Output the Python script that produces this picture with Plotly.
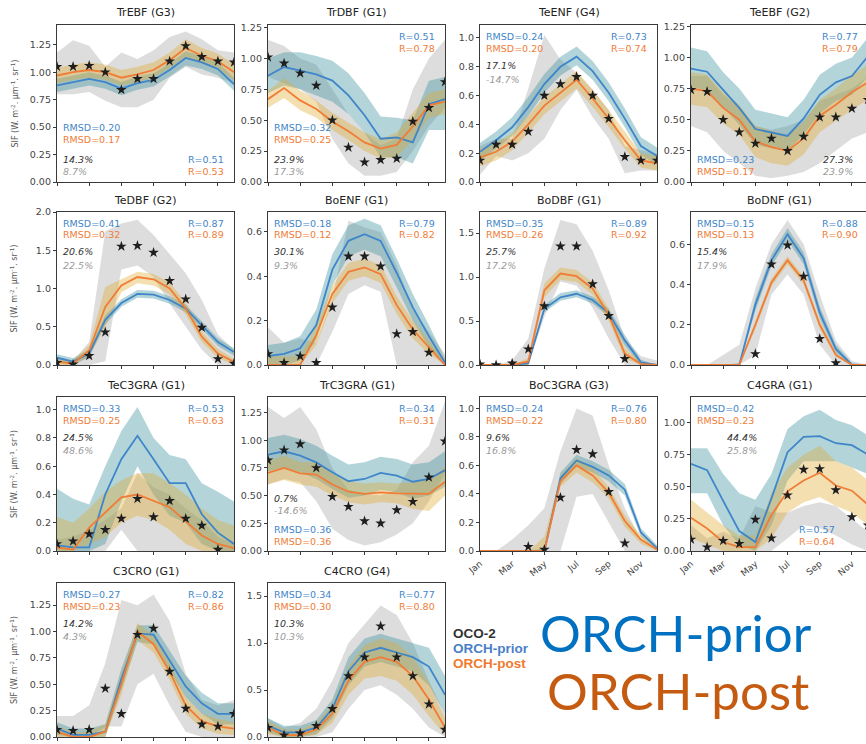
import plotly.graph_objects as go

# ---------------------------------------------------------------- data
months = list(range(12))
month_tick_vals = [0, 2, 4, 6, 8, 10]
month_tick_text = ["Jan", "Mar", "May", "Jul", "Sep", "Nov"]

titles = ["TrEBF (G3)", "TrDBF (G1)", "TeENF (G4)", "TeEBF (G2)",
          "TeDBF (G2)", "BoENF (G1)", "BoDBF (G1)", "BoDNF (G1)",
          "TeC3GRA (G1)", "TrC3GRA (G1)", "BoC3GRA (G3)", "C4GRA (G1)",
          "C3CRO (G1)", "C4CRO (G4)"]
rmsd_prior = ["0.20", "0.32", "0.24", "0.23", "0.41", "0.18", "0.35", "0.15",
              "0.33", "0.36", "0.24", "0.42", "0.27", "0.34"]
rmsd_post = ["0.17", "0.25", "0.20", "0.17", "0.32", "0.12", "0.26", "0.13",
             "0.25", "0.36", "0.22", "0.23", "0.23", "0.30"]
r_prior = ["0.51", "0.51", "0.73", "0.77", "0.87", "0.79", "0.89", "0.88",
           "0.53", "0.34", "0.76", "0.57", "0.82", "0.77"]
r_post = ["0.53", "0.78", "0.74", "0.79", "0.89", "0.82", "0.92", "0.90",
          "0.63", "0.31", "0.80", "0.64", "0.86", "0.80"]
pct_a = ["14.3%", "23.9%", "17.1%", "27.3%", "20.6%", "30.1%", "25.7%", "15.4%",
         "24.5%", "0.7%", "9.6%", "44.4%", "14.2%", "10.3%"]
pct_b = ["8.7%", "17.3%", "-14.7%", "23.9%", "22.5%", "9.3%", "17.2%", "17.9%",
         "48.6%", "-14.6%", "16.8%", "25.8%", "4.3%", "10.3%"]

# TrEBF
trebf_obs = [1.05, 1.05, 1.06, 1.00, 0.84, 0.94, 0.94, 1.10, 1.24, 1.14, 1.10, 1.09]
trebf_obs_lo = [0.80, 0.80, 0.82, 0.74, 0.68, 0.68, 0.75, 0.95, 1.05, 0.98, 0.95, 0.90]
trebf_obs_hi = [1.18, 1.29, 1.24, 1.05, 1.18, 1.12, 1.20, 1.32, 1.37, 1.30, 1.20, 1.18]
trebf_prior = [0.88, 0.91, 0.94, 0.91, 0.85, 0.90, 0.93, 1.02, 1.13, 1.09, 1.03, 0.89]
trebf_prior_lo = [0.82, 0.85, 0.88, 0.85, 0.79, 0.84, 0.87, 0.96, 1.06, 1.03, 0.97, 0.83]
trebf_prior_hi = [0.94, 0.97, 1.00, 0.97, 0.91, 0.96, 0.99, 1.08, 1.19, 1.15, 1.09, 0.95]
trebf_post = [0.97, 1.00, 1.02, 1.00, 0.95, 0.98, 1.02, 1.11, 1.22, 1.15, 1.10, 1.00]
trebf_post_lo = [0.90, 0.93, 0.95, 0.93, 0.88, 0.91, 0.95, 1.04, 1.14, 1.08, 1.03, 0.93]
trebf_post_hi = [1.04, 1.07, 1.09, 1.07, 1.02, 1.05, 1.09, 1.18, 1.30, 1.22, 1.17, 1.07]

# TrDBF
trdbf_obs = [1.01, 0.96, 0.88, 0.78, 0.50, 0.28, 0.16, 0.18, 0.19, 0.49, 0.60, 0.81]
trdbf_obs_lo = [0.85, 0.80, 0.75, 0.65, 0.35, 0.15, 0.05, 0.05, 0.08, 0.25, 0.45, 0.60]
trdbf_obs_hi = [1.15, 1.10, 1.00, 0.95, 0.75, 0.55, 0.40, 0.30, 0.35, 0.75, 1.00, 1.15]
trdbf_prior = [0.86, 0.93, 0.90, 0.87, 0.82, 0.70, 0.54, 0.35, 0.36, 0.32, 0.63, 0.67]
trdbf_prior_lo = [0.72, 0.78, 0.75, 0.70, 0.65, 0.55, 0.40, 0.20, 0.20, 0.15, 0.42, 0.42]
trdbf_prior_hi = [1.00, 1.05, 1.05, 1.02, 0.98, 0.88, 0.72, 0.53, 0.52, 0.50, 0.82, 0.85]
trdbf_post = [0.67, 0.76, 0.66, 0.59, 0.49, 0.41, 0.32, 0.27, 0.30, 0.45, 0.62, 0.65]
trdbf_post_lo = [0.60, 0.68, 0.58, 0.52, 0.42, 0.34, 0.25, 0.19, 0.20, 0.34, 0.52, 0.55]
trdbf_post_hi = [0.74, 0.84, 0.74, 0.66, 0.56, 0.48, 0.40, 0.35, 0.40, 0.56, 0.72, 0.75]

# TeENF
teenf_obs = [0.15, 0.26, 0.26, 0.35, 0.60, 0.68, 0.73, 0.60, 0.44, 0.175, 0.15, 0.15]
teenf_obs_lo = [0.05, 0.18, 0.15, 0.20, 0.30, 0.50, 0.64, 0.45, 0.30, 0.06, 0.08, 0.08]
teenf_obs_hi = [0.25, 0.30, 0.30, 0.65, 1.02, 0.85, 0.76, 0.64, 0.50, 0.25, 0.22, 0.20]
teenf_prior = [0.21, 0.29, 0.38, 0.52, 0.68, 0.80, 0.87, 0.77, 0.62, 0.44, 0.25, 0.18]
teenf_prior_lo = [0.15, 0.23, 0.32, 0.46, 0.62, 0.74, 0.81, 0.71, 0.56, 0.38, 0.19, 0.12]
teenf_prior_hi = [0.27, 0.35, 0.45, 0.59, 0.75, 0.87, 0.94, 0.84, 0.69, 0.51, 0.31, 0.24]
teenf_post = [0.17, 0.21, 0.28, 0.40, 0.53, 0.62, 0.71, 0.58, 0.44, 0.29, 0.15, 0.13]
teenf_post_lo = [0.11, 0.15, 0.22, 0.34, 0.47, 0.56, 0.65, 0.52, 0.38, 0.23, 0.10, 0.08]
teenf_post_hi = [0.23, 0.27, 0.34, 0.46, 0.59, 0.68, 0.77, 0.64, 0.50, 0.35, 0.20, 0.18]

# TeEBF
teebf_obs = [0.74, 0.725, 0.50, 0.40, 0.31, 0.35, 0.25, 0.365, 0.52, 0.52, 0.59, 0.66]
teebf_obs_lo = [0.45, 0.40, 0.25, 0.15, 0.05, 0.03, 0.05, 0.08, 0.15, 0.25, 0.35, 0.40]
teebf_obs_hi = [0.85, 0.85, 0.70, 0.60, 0.45, 0.42, 0.45, 0.50, 0.65, 0.70, 0.75, 0.85]
teebf_prior = [0.91, 0.885, 0.74, 0.595, 0.425, 0.40, 0.37, 0.51, 0.70, 0.80, 0.85, 1.01]
teebf_prior_lo = [0.76, 0.74, 0.60, 0.46, 0.30, 0.27, 0.25, 0.38, 0.55, 0.65, 0.70, 0.85]
teebf_prior_hi = [1.08, 1.05, 0.88, 0.75, 0.58, 0.55, 0.52, 0.66, 0.86, 0.95, 1.00, 1.16]
teebf_post = [0.75, 0.73, 0.595, 0.50, 0.325, 0.28, 0.25, 0.35, 0.53, 0.62, 0.72, 0.80]
teebf_post_lo = [0.62, 0.60, 0.47, 0.38, 0.20, 0.15, 0.13, 0.22, 0.40, 0.49, 0.58, 0.66]
teebf_post_hi = [0.88, 0.86, 0.72, 0.62, 0.45, 0.41, 0.38, 0.48, 0.66, 0.75, 0.86, 0.94]

# TeDBF
tedbf_obs = [0.03, 0.01, 0.12, 0.43, 1.55, 1.56, 1.47, 1.10, 0.86, 0.49, 0.08, 0.02]
tedbf_obs_lo = [0.0, 0.0, 0.0, 0.05, 1.25, 1.30, 1.15, 0.80, 0.50, 0.20, 0.0, 0.0]
tedbf_obs_hi = [0.10, 0.06, 0.30, 1.75, 1.85, 1.90, 1.70, 1.45, 1.20, 0.85, 0.40, 0.20]
tedbf_prior = [0.095, 0.045, 0.15, 0.59, 0.81, 0.93, 0.92, 0.85, 0.74, 0.52, 0.30, 0.17]
tedbf_prior_lo = [0.05, 0.0, 0.10, 0.53, 0.76, 0.88, 0.87, 0.80, 0.69, 0.47, 0.25, 0.12]
tedbf_prior_hi = [0.14, 0.09, 0.20, 0.65, 0.86, 0.98, 0.97, 0.90, 0.79, 0.57, 0.35, 0.22]
tedbf_post = [0.04, 0.02, 0.19, 0.76, 1.04, 1.15, 1.12, 1.00, 0.74, 0.37, 0.15, 0.04]
tedbf_post_lo = [0.0, 0.0, 0.12, 0.50, 0.95, 1.07, 1.04, 0.92, 0.66, 0.30, 0.09, 0.0]
tedbf_post_hi = [0.08, 0.06, 0.26, 1.02, 1.12, 1.22, 1.19, 1.08, 0.82, 0.44, 0.21, 0.08]

# BoENF
boenf_obs = [0.05, 0.01, 0.04, 0.01, 0.26, 0.49, 0.49, 0.445, 0.14, 0.15, 0.057, None]
boenf_obs_lo = [0, 0, 0, 0, 0.15, 0.32, 0.36, 0.33, 0, 0, 0, 0]
boenf_obs_hi = [0.17, 0.10, 0.12, 0.10, 0.30, 0.65, 0.62, 0.60, 0.45, 0.25, 0.15, 0.05]
boenf_prior = [0.04, 0.05, 0.075, 0.18, 0.43, 0.56, 0.59, 0.56, 0.415, 0.26, 0.13, 0.01]
boenf_prior_lo = [0.0, 0.0, 0.02, 0.11, 0.36, 0.49, 0.52, 0.49, 0.35, 0.20, 0.08, 0.0]
boenf_prior_hi = [0.09, 0.10, 0.13, 0.25, 0.50, 0.63, 0.66, 0.63, 0.48, 0.32, 0.18, 0.03]
boenf_post = [0.0, 0.0, 0.0, 0.135, 0.32, 0.42, 0.44, 0.41, 0.27, 0.16, 0.08, 0.0]
boenf_post_lo = [0, 0, 0, 0.09, 0.28, 0.38, 0.40, 0.37, 0.23, 0.12, 0.05, 0]
boenf_post_hi = [0.04, 0.04, 0.04, 0.18, 0.36, 0.46, 0.48, 0.45, 0.31, 0.20, 0.11, 0.01]

# BoDBF
bodbf_obs = [0.01, 0.0, 0.02, 0.18, 0.67, 1.35, 1.35, 0.92, 0.56, 0.07, None, None]
bodbf_obs_lo = [0, 0, 0, 0, 0.55, 0.95, 0.90, 0.65, 0.30, 0, 0, 0]
bodbf_obs_hi = [0, 0, 0.05, 0.30, 1.10, 1.65, 1.60, 1.30, 0.85, 0.30, 0.10, 0.05]
bodbf_prior = [0, 0, 0, 0.02, 0.64, 0.77, 0.81, 0.74, 0.59, 0.28, 0.03, 0]
bodbf_prior_lo = [0, 0, 0, 0, 0.60, 0.73, 0.77, 0.70, 0.55, 0.22, 0, 0]
bodbf_prior_hi = [0, 0, 0, 0.04, 0.68, 0.82, 0.85, 0.78, 0.64, 0.34, 0.06, 0]
bodbf_post = [0, 0, 0, 0.04, 0.85, 1.04, 1.01, 0.87, 0.57, 0.13, 0.01, 0]
bodbf_post_lo = [0, 0, 0, 0, 0.77, 0.97, 0.94, 0.80, 0.50, 0.07, 0, 0]
bodbf_post_hi = [0, 0, 0, 0.08, 0.93, 1.11, 1.08, 0.94, 0.64, 0.19, 0.03, 0]

# BoDNF
bodnf_obs = [None, None, None, None, 0.055, 0.50, 0.595, 0.44, 0.13, 0.01, None, None]
bodnf_obs_lo = [0, 0, 0, 0, 0.05, 0.35, 0.45, 0.35, 0.10, 0, 0, 0]
bodnf_obs_hi = [0, 0, 0.05, 0.10, 0.38, 0.60, 0.72, 0.60, 0.35, 0.12, 0.02, 0]
bodnf_prior = [0, 0, 0, 0, 0.30, 0.52, 0.65, 0.53, 0.26, 0.08, 0, 0]
bodnf_prior_lo = [0, 0, 0, 0, 0.27, 0.49, 0.62, 0.50, 0.23, 0.06, 0, 0]
bodnf_prior_hi = [0, 0, 0, 0.01, 0.33, 0.55, 0.68, 0.56, 0.29, 0.10, 0.01, 0]
bodnf_post = [0, 0, 0, 0, 0.20, 0.41, 0.52, 0.42, 0.20, 0.05, 0, 0]
bodnf_post_lo = [0, 0, 0, 0, 0.18, 0.39, 0.50, 0.40, 0.18, 0.04, 0, 0]
bodnf_post_hi = [0, 0, 0, 0, 0.22, 0.43, 0.54, 0.44, 0.22, 0.06, 0, 0]

# TeC3GRA
tec3gra_obs = [0.05, 0.07, 0.12, 0.15, 0.23, 0.37, 0.24, 0.355, 0.23, 0.18, 0.01, None]
tec3gra_obs_lo = [0, 0, 0, 0, 0.15, 0, 0, 0, 0, 0, 0, 0]
tec3gra_obs_hi = [0.08, 0.10, 0.15, 0.22, 0.30, 0.55, 0.45, 0.40, 0.30, 0.22, 0.10, 0.05]
tec3gra_prior = [0.04, 0.025, 0.025, 0.40, 0.65, 0.815, 0.65, 0.48, 0.48, 0.26, 0.13, 0.05]
tec3gra_prior_lo = [0, 0, 0, 0.05, 0.35, 0.60, 0.40, 0.25, 0.20, 0.05, 0, 0]
tec3gra_prior_hi = [0.44, 0.37, 0.33, 0.60, 0.85, 1.02, 0.80, 0.68, 0.65, 0.48, 0.42, 0.35]
tec3gra_post = [0.025, 0.01, 0.165, 0.27, 0.38, 0.40, 0.355, 0.31, 0.21, 0.11, 0.05, 0.02]
tec3gra_post_lo = [0, 0, 0.05, 0.10, 0.20, 0.25, 0.22, 0.15, 0.05, 0, 0, 0]
tec3gra_post_hi = [0.24, 0.20, 0.30, 0.42, 0.50, 0.55, 0.55, 0.48, 0.40, 0.30, 0.22, 0.18]

# TrC3GRA
trc3gra_obs = [0.82, 0.91, 0.965, 0.75, 0.49, 0.40, 0.27, 0.25, 0.37, 0.445, 0.665, 0.99]
trc3gra_obs_lo = [0.60, 0.65, 0.62, 0.45, 0.20, 0.10, 0.05, 0.08, 0.15, 0.25, 0.45, 0.70]
trc3gra_obs_hi = [1.30, 1.20, 1.30, 1.10, 0.75, 0.55, 0.52, 0.50, 0.55, 0.80, 0.95, 1.35]
trc3gra_prior = [0.87, 0.90, 0.86, 0.80, 0.71, 0.63, 0.65, 0.705, 0.68, 0.625, 0.65, 0.73]
trc3gra_prior_lo = [0.72, 0.75, 0.71, 0.65, 0.56, 0.48, 0.50, 0.55, 0.53, 0.47, 0.50, 0.58]
trc3gra_prior_hi = [1.02, 1.05, 1.01, 0.95, 0.86, 0.78, 0.80, 0.85, 0.83, 0.78, 0.80, 0.90]
trc3gra_post = [0.705, 0.75, 0.70, 0.69, 0.60, 0.535, 0.515, 0.53, 0.52, 0.515, 0.515, 0.625]
trc3gra_post_lo = [0.60, 0.64, 0.60, 0.58, 0.50, 0.44, 0.42, 0.44, 0.43, 0.38, 0.36, 0.50]
trc3gra_post_hi = [0.81, 0.86, 0.80, 0.80, 0.70, 0.63, 0.61, 0.62, 0.61, 0.62, 0.65, 0.76]

# BoC3GRA
boc3gra_obs = [None, None, None, 0.03, 0.01, 0.375, 0.71, 0.68, 0.415, 0.055, None, None]
boc3gra_obs_lo = [0, 0, 0, 0, 0, 0, 0.38, 0.40, 0.20, 0, 0, 0]
boc3gra_obs_hi = [0, 0, 0.08, 0.18, 0.30, 0.70, 1.00, 0.95, 0.60, 0.30, 0.08, 0]
boc3gra_prior = [0, 0, 0, 0, 0, 0.51, 0.635, 0.59, 0.53, 0.43, 0.13, 0.02]
boc3gra_prior_lo = [0, 0, 0, 0, 0, 0.47, 0.595, 0.55, 0.49, 0.39, 0.10, 0.0]
boc3gra_prior_hi = [0, 0, 0, 0, 0.02, 0.55, 0.675, 0.63, 0.57, 0.47, 0.16, 0.04]
boc3gra_post = [0, 0, 0, 0, 0, 0.49, 0.60, 0.53, 0.41, 0.21, 0.08, 0.01]
boc3gra_post_lo = [0, 0, 0, 0, 0, 0.45, 0.55, 0.48, 0.37, 0.17, 0.05, 0]
boc3gra_post_hi = [0, 0, 0, 0, 0.10, 0.53, 0.65, 0.58, 0.45, 0.25, 0.11, 0.03]

# C4GRA
c4gra_obs = [0.09, 0.03, 0.08, 0.057, 0.245, 0.10, 0.435, 0.635, 0.64, 0.475, 0.265, 0.20]
c4gra_obs_lo = [0, 0, 0, 0, 0, 0, 0.10, 0.20, 0.18, 0.12, 0.05, 0.0]
c4gra_obs_hi = [0.20, 0.10, 0.15, 0.10, 0.35, 0.30, 0.30, 0.35, 0.38, 0.35, 0.25, 0.15]
c4gra_prior = [0.68, 0.63, 0.39, 0.155, 0.07, 0.41, 0.77, 0.89, 0.895, 0.84, 0.825, 0.75]
c4gra_prior_lo = [0.45, 0.45, 0.20, 0.05, 0.0, 0.20, 0.55, 0.70, 0.70, 0.70, 0.65, 0.60]
c4gra_prior_hi = [0.80, 0.80, 0.60, 0.45, 0.40, 0.60, 0.95, 1.05, 1.10, 1.02, 0.98, 0.90]
c4gra_post = [0.26, 0.175, 0.07, 0.03, 0.03, 0.28, 0.465, 0.55, 0.61, 0.51, 0.47, 0.36]
c4gra_post_lo = [0.10, 0.05, 0.0, 0.0, 0.0, 0.10, 0.30, 0.38, 0.42, 0.35, 0.30, 0.20]
c4gra_post_hi = [0.40, 0.30, 0.20, 0.12, 0.12, 0.45, 0.65, 0.75, 0.82, 0.70, 0.65, 0.55]

# C3CRO
c3cro_obs = [0.07, 0.06, 0.07, 0.46, 0.22, 0.97, 1.03, 0.62, 0.27, 0.12, 0.10, 0.22]
c3cro_obs_lo = [0, 0, 0, 0.10, 0.10, 0.50, 0.60, 0.30, 0.05, 0, 0, 0]
c3cro_obs_hi = [0.20, 0.20, 0.30, 0.70, 1.30, 1.25, 1.35, 1.10, 0.60, 0.35, 0.30, 0.35]
c3cro_prior = [0.08, 0.02, 0.02, 0.05, 0.55, 0.98, 0.97, 0.72, 0.48, 0.32, 0.22, 0.22]
c3cro_prior_lo = [0.02, 0, 0, 0, 0.45, 0.90, 0.88, 0.62, 0.38, 0.22, 0.12, 0.12]
c3cro_prior_hi = [0.14, 0.08, 0.08, 0.12, 0.65, 1.06, 1.06, 0.82, 0.58, 0.42, 0.32, 0.32]
c3cro_post = [0.05, 0.0, 0.0, 0.05, 0.50, 1.00, 0.88, 0.62, 0.30, 0.15, 0.10, 0.08]
c3cro_post_lo = [0, 0, 0, 0, 0.40, 0.92, 0.80, 0.54, 0.22, 0.08, 0.03, 0.02]
c3cro_post_hi = [0.10, 0.05, 0.05, 0.12, 0.60, 1.08, 0.96, 0.70, 0.38, 0.22, 0.17, 0.14]

# C4CRO
c4cro_obs = [0.10, 0.02, 0.04, 0.12, 0.30, 0.65, 0.85, 1.18, 0.85, 0.65, 0.35, 0.08]
c4cro_obs_lo = [0, 0, 0, 0, 0.05, 0.30, 0.50, 0.55, 0.45, 0.30, 0.10, 0]
c4cro_obs_hi = [0.20, 0.10, 0.15, 0.30, 0.60, 1.00, 1.20, 1.40, 1.30, 1.00, 0.60, 0.25]
c4cro_prior = [0.12, 0.05, 0.05, 0.10, 0.30, 0.70, 0.90, 0.95, 0.90, 0.85, 0.75, 0.45]
c4cro_prior_lo = [0.05, 0, 0, 0.03, 0.20, 0.55, 0.75, 0.80, 0.75, 0.70, 0.55, 0.25]
c4cro_prior_hi = [0.20, 0.12, 0.12, 0.18, 0.40, 0.85, 1.05, 1.10, 1.05, 1.00, 0.95, 0.65]
c4cro_post = [0.10, 0.02, 0.02, 0.08, 0.25, 0.60, 0.80, 0.85, 0.80, 0.65, 0.40, 0.10]
c4cro_post_lo = [0.03, 0, 0, 0.02, 0.15, 0.45, 0.62, 0.65, 0.60, 0.45, 0.22, 0.02]
c4cro_post_hi = [0.17, 0.08, 0.08, 0.15, 0.35, 0.75, 0.98, 1.05, 1.00, 0.85, 0.58, 0.20]

series = [
    (trebf_obs, trebf_obs_lo, trebf_obs_hi, trebf_prior, trebf_prior_lo, trebf_prior_hi, trebf_post, trebf_post_lo, trebf_post_hi),
    (trdbf_obs, trdbf_obs_lo, trdbf_obs_hi, trdbf_prior, trdbf_prior_lo, trdbf_prior_hi, trdbf_post, trdbf_post_lo, trdbf_post_hi),
    (teenf_obs, teenf_obs_lo, teenf_obs_hi, teenf_prior, teenf_prior_lo, teenf_prior_hi, teenf_post, teenf_post_lo, teenf_post_hi),
    (teebf_obs, teebf_obs_lo, teebf_obs_hi, teebf_prior, teebf_prior_lo, teebf_prior_hi, teebf_post, teebf_post_lo, teebf_post_hi),
    (tedbf_obs, tedbf_obs_lo, tedbf_obs_hi, tedbf_prior, tedbf_prior_lo, tedbf_prior_hi, tedbf_post, tedbf_post_lo, tedbf_post_hi),
    (boenf_obs, boenf_obs_lo, boenf_obs_hi, boenf_prior, boenf_prior_lo, boenf_prior_hi, boenf_post, boenf_post_lo, boenf_post_hi),
    (bodbf_obs, bodbf_obs_lo, bodbf_obs_hi, bodbf_prior, bodbf_prior_lo, bodbf_prior_hi, bodbf_post, bodbf_post_lo, bodbf_post_hi),
    (bodnf_obs, bodnf_obs_lo, bodnf_obs_hi, bodnf_prior, bodnf_prior_lo, bodnf_prior_hi, bodnf_post, bodnf_post_lo, bodnf_post_hi),
    (tec3gra_obs, tec3gra_obs_lo, tec3gra_obs_hi, tec3gra_prior, tec3gra_prior_lo, tec3gra_prior_hi, tec3gra_post, tec3gra_post_lo, tec3gra_post_hi),
    (trc3gra_obs, trc3gra_obs_lo, trc3gra_obs_hi, trc3gra_prior, trc3gra_prior_lo, trc3gra_prior_hi, trc3gra_post, trc3gra_post_lo, trc3gra_post_hi),
    (boc3gra_obs, boc3gra_obs_lo, boc3gra_obs_hi, boc3gra_prior, boc3gra_prior_lo, boc3gra_prior_hi, boc3gra_post, boc3gra_post_lo, boc3gra_post_hi),
    (c4gra_obs, c4gra_obs_lo, c4gra_obs_hi, c4gra_prior, c4gra_prior_lo, c4gra_prior_hi, c4gra_post, c4gra_post_lo, c4gra_post_hi),
    (c3cro_obs, c3cro_obs_lo, c3cro_obs_hi, c3cro_prior, c3cro_prior_lo, c3cro_prior_hi, c3cro_post, c3cro_post_lo, c3cro_post_hi),
    (c4cro_obs, c4cro_obs_lo, c4cro_obs_hi, c4cro_prior, c4cro_prior_lo, c4cro_prior_hi, c4cro_post, c4cro_post_lo, c4cro_post_hi),
]

# y-axis upper limit and tick step of each panel
y_top = [1.43, 1.27, 1.09, 1.26, 2.0, 0.69, 1.74, 0.76, 1.09, 1.39, 1.08, 1.2, 1.46, 1.64]
y_step = [0.25, 0.25, 0.2, 0.25, 0.5, 0.2, 0.5, 0.2, 0.2, 0.25, 0.2, 0.25, 0.25, 0.5]

# ---------------------------------------------------------------- layout
W, H = 866, 744
col_left = [57, 268, 480, 691]
panel_w = 177
row_box = [(25, 182), (212, 365), (397, 551), (583, 737)]

BLUE = "#3f85c9"
ORANGE = "#f07c36"
BLUE_BAND = "rgba(64,150,162,0.40)"
ORANGE_BAND = "rgba(225,165,40,0.36)"
GREY_BAND = "rgba(175,175,175,0.42)"
FONT = "DejaVu Sans"

fig = go.Figure()
annotations = []


def px(x):
    return x / W


def py(y):
    return 1 - y / H


for i, data in enumerate(series):
    obs, obs_lo, obs_hi, pr, pr_lo, pr_hi, po, po_lo, po_hi = data
    row, col = divmod(i, 4)
    n = i + 1
    xa = "x" if n == 1 else f"x{n}"
    ya = "y" if n == 1 else f"y{n}"
    left = col_left[col]
    right_full = left + panel_w
    right = min(right_full, W)
    top, bot = row_box[row]
    x_max = 11 * (right - left) / panel_w

    def band(lo, hi, color):
        fig.add_trace(go.Scatter(x=months, y=lo, mode="lines", line=dict(width=0),
                                 xaxis=xa, yaxis=ya, hoverinfo="skip", showlegend=False))
        fig.add_trace(go.Scatter(x=months, y=hi, mode="lines", line=dict(width=0),
                                 fill="tonexty", fillcolor=color,
                                 xaxis=xa, yaxis=ya, hoverinfo="skip", showlegend=False))

    band(obs_lo, obs_hi, GREY_BAND)
    band(pr_lo, pr_hi, BLUE_BAND)
    band(po_lo, po_hi, ORANGE_BAND)
    fig.add_trace(go.Scatter(x=months, y=pr, mode="lines", line=dict(color=BLUE, width=1.8),
                             xaxis=xa, yaxis=ya, showlegend=False, name="ORCH-prior"))
    fig.add_trace(go.Scatter(x=months, y=po, mode="lines", line=dict(color=ORANGE, width=1.8),
                             xaxis=xa, yaxis=ya, showlegend=False, name="ORCH-post"))
    fig.add_trace(go.Scatter(x=months, y=obs, mode="markers",
                             marker=dict(symbol="star", size=8, color="#1e1e1e"),
                             xaxis=xa, yaxis=ya, showlegend=False, name="OCO-2"))

    # month names only under the panels that have nothing below them and stay on screen
    show_month_labels = (row == 2 and col >= 2)
    clipped = right_full > W
    n_ticks = int(y_top[i] / y_step[i] + 1e-6) + 1
    tick_vals = [round(k * y_step[i], 3) for k in range(n_ticks)]
    fmt = ".2f" if y_step[i] == 0.25 else ".1f"

    fig.update_layout(**{
        ("xaxis" if n == 1 else f"xaxis{n}"): dict(
            domain=[px(left), px(right)], anchor=ya, range=[0, x_max], automargin=False,
            showgrid=False, zeroline=False, showline=True, linecolor="#3a3a3a", linewidth=1.3,
            mirror=True, ticks="outside", ticklen=3, tickcolor="#3a3a3a",
            tickvals=month_tick_vals,
            ticktext=month_tick_text if show_month_labels else [""] * 6,
            tickangle=-40, tickfont=dict(family=FONT, size=9, color="#444")),
        ("yaxis" if n == 1 else f"yaxis{n}"): dict(
            domain=[py(bot), py(top)], anchor=xa, range=[0, y_top[i]], automargin=False,
            showgrid=False, zeroline=False, showline=True, linecolor="#3a3a3a", linewidth=1.3,
            mirror=not clipped, ticks="outside", ticklen=3, tickcolor="#3a3a3a",
            tickvals=tick_vals, tickformat=fmt,
            tickfont=dict(family=FONT, size=9.5, color="#444")),
    })

    # panel title
    annotations.append(dict(x=px(left + panel_w / 2), y=py(top - 12), xref="paper", yref="paper",
                            text=titles[i], showarrow=False, xanchor="center", yanchor="middle",
                            font=dict(family=FONT, size=11, color="#222")))

    ph = bot - top

    def txt(fx, fy, s, color, anchor="left", italic=False):
        # fx: fraction of the full panel width, fy: fraction of the panel height from the bottom
        text = f"<i>{s}</i>" if italic else s
        annotations.append(dict(x=px(left + fx * panel_w), y=py(bot - fy * ph),
                                xref="paper", yref="paper", text=text, showarrow=False,
                                xanchor=anchor, yanchor="middle",
                                font=dict(family=FONT, size=9.5, color=color)))

    rm_b = f"RMSD={rmsd_prior[i]}"
    rm_o = f"RMSD={rmsd_post[i]}"
    r_b = f"R={r_prior[i]}"
    r_o = f"R={r_post[i]}"
    xl, xr = 0.02, 0.955
    if i == 0:
        txt(xl, 0.345, rm_b, BLUE); txt(xl, 0.27, rm_o, ORANGE)
        txt(xl, 0.145, pct_a[i], "#333", italic=True); txt(xl, 0.065, pct_b[i], "#9a9a9a", italic=True)
        txt(xr, 0.145, r_b, BLUE, "right"); txt(xr, 0.065, r_o, ORANGE, "right")
    elif i == 1:
        txt(xr, 0.925, r_b, BLUE, "right"); txt(xr, 0.85, r_o, ORANGE, "right")
        txt(xl, 0.345, rm_b, BLUE); txt(xl, 0.27, rm_o, ORANGE)
        txt(xl, 0.145, pct_a[i], "#333", italic=True); txt(xl, 0.065, pct_b[i], "#9a9a9a", italic=True)
    elif i == 3:
        txt(xr, 0.925, r_b, BLUE, "right"); txt(xr, 0.85, r_o, ORANGE, "right")
        txt(xl, 0.145, rm_b, BLUE); txt(xl, 0.065, rm_o, ORANGE)
        txt(0.925, 0.145, pct_a[i], "#333", "right", italic=True)
        txt(0.925, 0.065, pct_b[i], "#9a9a9a", "right", italic=True)
    elif i == 9:
        txt(xr, 0.925, r_b, BLUE, "right"); txt(xr, 0.85, r_o, ORANGE, "right")
        txt(xl, 0.34, pct_a[i], "#333", italic=True); txt(xl, 0.26, pct_b[i], "#9a9a9a", italic=True)
        txt(xl, 0.14, rm_b, BLUE); txt(xl, 0.06, rm_o, ORANGE)
    elif i == 11:
        txt(xl, 0.925, rm_b, BLUE); txt(xl, 0.85, rm_o, ORANGE)
        txt(0.29, 0.735, pct_a[i], "#333", "center", italic=True)
        txt(0.29, 0.65, pct_b[i], "#9a9a9a", "center", italic=True)
        txt(0.71, 0.14, r_b, BLUE, "center"); txt(0.71, 0.06, r_o, ORANGE, "center")
    else:
        txt(xl, 0.925, rm_b, BLUE); txt(xl, 0.85, rm_o, ORANGE)
        txt(xr, 0.925, r_b, BLUE, "right"); txt(xr, 0.85, r_o, ORANGE, "right")
        txt(xl, 0.74, pct_a[i], "#333", italic=True); txt(xl, 0.65, pct_b[i], "#9a9a9a", italic=True)

    if col == 0:
        annotations.append(dict(x=px(14), y=py((top + bot) / 2), xref="paper", yref="paper",
                                text="SIF (W. m<sup>-2</sup>. μm<sup>-1</sup>. sr<sup>-1</sup>)",
                                textangle=-90, showarrow=False, xanchor="center", yanchor="middle",
                                font=dict(family=FONT, size=8, color="#555")))

# legend block
for k, (label, color) in enumerate([("OCO-2", "#333333"), ("ORCH-prior", "#4a7fc8"),
                                    ("ORCH-post", "#ee7a30")]):
    annotations.append(dict(x=px(451), y=py(633 + 15 * k), xref="paper", yref="paper",
                            text=f"<b>{label}</b>", showarrow=False, xanchor="left",
                            yanchor="middle", font=dict(family="Liberation Sans", size=13.5, color=color)))

annotations.append(dict(x=px(538), y=py(632), xref="paper", yref="paper", text="ORCH-prior",
                        showarrow=False, xanchor="left", yanchor="middle",
                        font=dict(family="Lato", size=51, color="#0070c0")))
annotations.append(dict(x=px(545), y=py(690), xref="paper", yref="paper", text="ORCH-post",
                        showarrow=False, xanchor="left", yanchor="middle",
                        font=dict(family="Lato", size=51, color="#c55a11")))

fig.update_layout(width=W, height=H, margin=dict(l=0, r=0, t=0, b=0, autoexpand=False),
                  paper_bgcolor="white", plot_bgcolor="white",
                  annotations=annotations, showlegend=False)

fig.write_html("out.html")
